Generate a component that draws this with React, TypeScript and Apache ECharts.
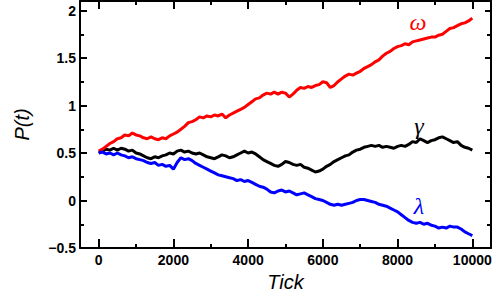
import React, { useEffect, useRef } from "react";
import * as echarts from "echarts";

// sample positions (every 100 ticks)
const TICKS: number[] = Array.from({ length: 101 }, (_, i) => i * 100);

const OMEGA: number[] = [
  0.52, 0.54, 0.57, 0.60, 0.62, 0.65, 0.66, 0.69, 0.68, 0.71,
  0.69, 0.68, 0.66, 0.65, 0.67, 0.65, 0.64, 0.66, 0.65, 0.68,
  0.70, 0.72, 0.75, 0.78, 0.82, 0.83, 0.85, 0.88, 0.87, 0.89,
  0.88, 0.90, 0.89, 0.91, 0.87, 0.90, 0.92, 0.94, 0.96, 0.98,
  1.01, 1.04, 1.07, 1.08, 1.11, 1.13, 1.12, 1.14, 1.12, 1.14,
  1.13, 1.09, 1.12, 1.16, 1.19, 1.18, 1.20, 1.19, 1.21, 1.22,
  1.25, 1.24, 1.19, 1.21, 1.25, 1.28, 1.31, 1.33, 1.32, 1.34,
  1.36, 1.39, 1.41, 1.43, 1.46, 1.48, 1.52, 1.55, 1.57, 1.60,
  1.62, 1.63, 1.65, 1.64, 1.67, 1.68, 1.69, 1.70, 1.71, 1.72,
  1.72, 1.74, 1.75, 1.78, 1.81, 1.82, 1.84, 1.86, 1.87, 1.89,
  1.92,
];

const GAMMA: number[] = [
  0.50, 0.52, 0.54, 0.53, 0.55, 0.53, 0.55, 0.54, 0.52, 0.53,
  0.50, 0.49, 0.47, 0.45, 0.44, 0.46, 0.45, 0.47, 0.48, 0.50,
  0.49, 0.52, 0.53, 0.51, 0.52, 0.50, 0.49, 0.50, 0.48, 0.46,
  0.45, 0.44, 0.46, 0.48, 0.47, 0.45, 0.46, 0.48, 0.50, 0.52,
  0.50, 0.51, 0.49, 0.46, 0.43, 0.41, 0.39, 0.37, 0.36, 0.38,
  0.41, 0.40, 0.38, 0.37, 0.38, 0.35, 0.34, 0.32, 0.30, 0.31,
  0.33, 0.36, 0.38, 0.41, 0.43, 0.45, 0.47, 0.48, 0.51, 0.53,
  0.54, 0.56, 0.57, 0.58, 0.57, 0.58, 0.56, 0.57, 0.56, 0.55,
  0.57, 0.58, 0.57, 0.59, 0.62, 0.61, 0.65, 0.63, 0.61, 0.63,
  0.64, 0.66, 0.67, 0.65, 0.63, 0.61, 0.62, 0.58, 0.56, 0.55,
  0.53,
];

const LAMBDA: number[] = [
  0.50, 0.51, 0.49, 0.50, 0.48, 0.50, 0.48, 0.47, 0.45, 0.46,
  0.44, 0.43, 0.42, 0.40, 0.39, 0.40, 0.37, 0.38, 0.36, 0.37,
  0.33, 0.40, 0.45, 0.43, 0.44, 0.42, 0.39, 0.37, 0.35, 0.33,
  0.31, 0.29, 0.27, 0.26, 0.25, 0.24, 0.23, 0.21, 0.22, 0.20,
  0.21, 0.19, 0.17, 0.15, 0.14, 0.12, 0.09, 0.08, 0.10, 0.11,
  0.09, 0.10, 0.08, 0.06, 0.07, 0.08, 0.06, 0.04, 0.02, 0.01,
  0.00, -0.02, -0.04, -0.05, -0.04, -0.05, -0.04, -0.03, -0.02, 0.00,
  0.01, 0.01, 0.00, -0.01, -0.02, -0.04, -0.05, -0.06, -0.08, -0.10,
  -0.12, -0.15, -0.18, -0.21, -0.23, -0.24, -0.23, -0.25, -0.24, -0.26,
  -0.27, -0.29, -0.28, -0.29, -0.27, -0.28, -0.28, -0.30, -0.33, -0.35,
  -0.37,
];

const X_MAJOR = [0, 2000, 4000, 6000, 8000, 10000];
const X_MINOR = [1000, 3000, 5000, 7000, 9000];
const Y_MAJOR = [-0.5, 0, 0.5, 1, 1.5, 2];
const Y_MINOR = [-0.25, 0.25, 0.75, 1.25, 1.75];

const FONT = "'Liberation Sans', Arial, Helvetica, sans-serif";
const GREEK = "'Liberation Serif', 'DejaVu Serif', serif";

export default function App() {
  const ref = useRef<HTMLDivElement>(null);
  useEffect(() => {
    document.body.style.margin = "0";
    const chart = echarts.init(ref.current!, null, { renderer: "svg" });
    const pair = (ys: number[]) => TICKS.map((t, i) => [t, ys[i]]);
    const fmt = (v: number) => String(v).replace("-", "\u2212");
    const lineStyle = { color: "#000", width: 2 };
    const xBase = { type: "value", min: -500, max: 10500, splitLine: { show: false } };
    const yBase = { type: "value", min: -0.5, max: 2.1, splitLine: { show: false } };
    chart.setOption({
      animation: false,
      backgroundColor: "#fff",
      grid: { left: 80, right: 5, top: 1, bottom: 51, containLabel: false, outerBoundsMode: "none" },
      xAxis: [
        {
          ...xBase, position: "bottom",
          axisLine: { show: true, onZero: false, lineStyle },
          axisTick: { show: true, inside: true, length: 9, customValues: X_MAJOR, lineStyle },
          axisLabel: {
            show: true, customValues: X_MAJOR, formatter: fmt, margin: 5,
            fontFamily: FONT, fontSize: 14, fontWeight: "bold", color: "#000",
          },
          name: "Tick", nameLocation: "middle", nameGap: 24,
          nameTextStyle: { fontFamily: FONT, fontSize: 20, fontStyle: "italic", color: "#000" },
        },
        {
          ...xBase, position: "bottom",
          axisLine: { show: false, onZero: false },
          axisTick: { show: true, inside: true, length: 4, customValues: X_MINOR, lineStyle },
          axisLabel: { show: false },
        },
        {
          ...xBase, position: "top",
          axisLine: { show: true, onZero: false, lineStyle },
          axisTick: { show: true, inside: true, length: 8, customValues: X_MAJOR, lineStyle },
          axisLabel: { show: false },
        },
        {
          ...xBase, position: "top",
          axisLine: { show: false, onZero: false },
          axisTick: { show: true, inside: true, length: 4, customValues: X_MINOR, lineStyle },
          axisLabel: { show: false },
        },
      ],
      yAxis: [
        {
          ...yBase, position: "left",
          axisLine: { show: true, onZero: false, lineStyle },
          axisTick: { show: true, inside: true, length: 7, customValues: Y_MAJOR, lineStyle },
          axisLabel: {
            show: true, customValues: Y_MAJOR, formatter: fmt, margin: 4,
            fontFamily: FONT, fontSize: 14, fontWeight: "bold", color: "#000",
          },
          name: "P(t)", nameLocation: "middle", nameGap: 48,
          nameTextStyle: { fontFamily: FONT, fontSize: 20, fontStyle: "italic", color: "#000" },
        },
        {
          ...yBase, position: "left",
          axisLine: { show: false, onZero: false },
          axisTick: { show: true, inside: true, length: 4, customValues: Y_MINOR, lineStyle },
          axisLabel: { show: false },
        },
        {
          ...yBase, position: "right",
          axisLine: { show: true, onZero: false, lineStyle },
          axisTick: { show: true, inside: true, length: 6, customValues: Y_MAJOR, lineStyle },
          axisLabel: { show: false },
        },
        {
          ...yBase, position: "right",
          axisLine: { show: false, onZero: false },
          axisTick: { show: true, inside: true, length: 4, customValues: Y_MINOR, lineStyle },
          axisLabel: { show: false },
        },
      ],
      series: [
        {
          type: "line", name: "γ", data: pair(GAMMA), showSymbol: false,
          lineStyle: { color: "#000000", width: 3 }, xAxisIndex: 0, yAxisIndex: 0,
        },
        {
          type: "line", name: "ω", data: pair(OMEGA), showSymbol: false,
          lineStyle: { color: "#ff0000", width: 3 }, xAxisIndex: 0, yAxisIndex: 0,
        },
        {
          type: "line", name: "λ", data: pair(LAMBDA), showSymbol: false,
          lineStyle: { color: "#0000ff", width: 3 }, xAxisIndex: 0, yAxisIndex: 0,
        },
      ],
      graphic: [
        {
          type: "text", x: 418, y: 22,
          style: { text: "ω", fill: "#ff0000", font: `italic 24px ${GREEK}`, align: "center", verticalAlign: "middle" },
        },
        {
          type: "text", x: 419, y: 126,
          style: { text: "γ", fill: "#000", font: `italic 24px ${GREEK}`, align: "center", verticalAlign: "middle" },
        },
        {
          type: "text", x: 419, y: 206,
          style: { text: "λ", fill: "#0000ff", font: `italic 24px ${GREEK}`, align: "center", verticalAlign: "middle" },
        },
      ],
    });
    return () => chart.dispose();
  }, []);
  return <div ref={ref} style={{ width: 496, height: 299 }} />;
}
